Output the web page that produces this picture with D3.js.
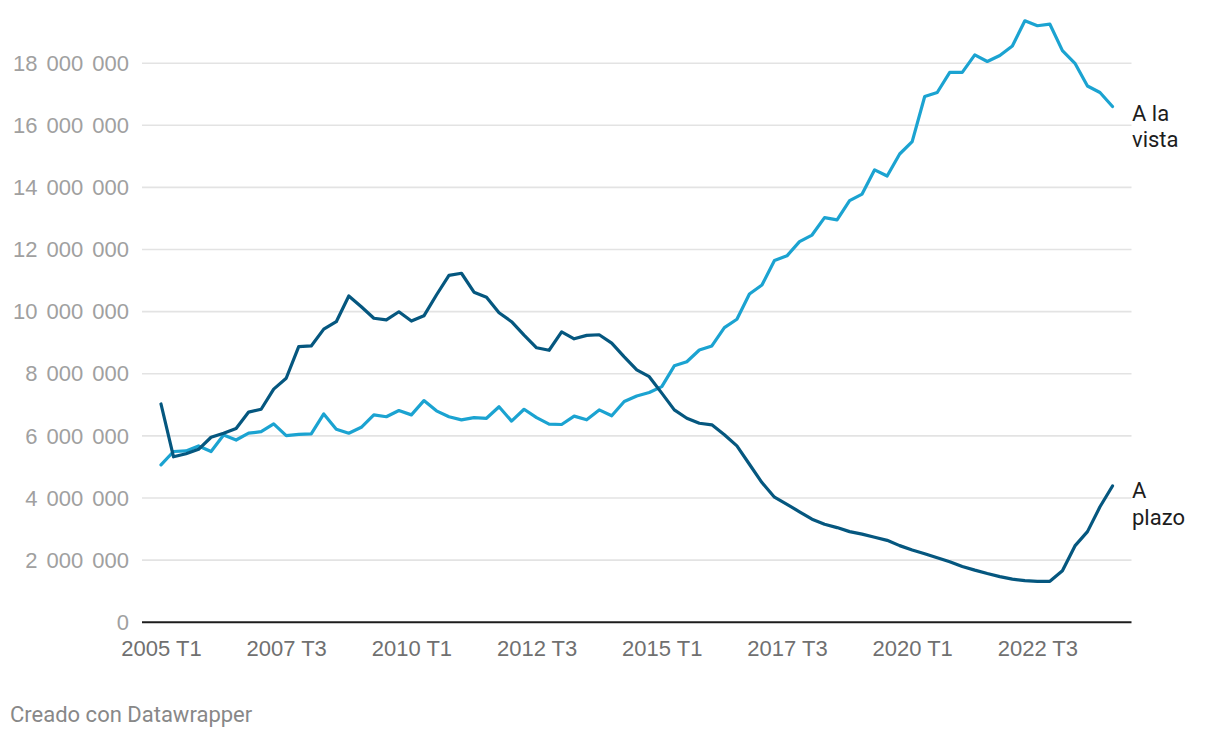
<!DOCTYPE html>
<html>
<head>
<meta charset="utf-8">
<script src="https://cdn.jsdelivr.net/npm/d3@7"></script>
<style>
  html, body { margin: 0; padding: 0; background: #fff; }
  svg { display: block; font-family: Roboto, "Noto Sans", sans-serif; }
</style>
</head>
<body>
<svg id="chart" width="1220" height="738"></svg>
<script>
// Quarters 2005 T1 .. 2024 T1
const years = d3.range(2005, 2025);
const quarters = [];
years.forEach(y => ["T1","T2","T3","T4"].forEach(q => quarters.push(y + " " + q)));
quarters.length = 77;

const aLaVista = [
  5.05, 5.48, 5.50, 5.66, 5.48, 6.01, 5.85, 6.07, 6.12, 6.37,
  5.99, 6.03, 6.05, 6.69, 6.20, 6.07, 6.26, 6.66, 6.60, 6.80,
  6.66, 7.12, 6.79, 6.60, 6.50, 6.57, 6.55, 6.92, 6.46, 6.84,
  6.57, 6.36, 6.35, 6.62, 6.50, 6.82, 6.63, 7.09, 7.27, 7.38,
  7.57, 8.24, 8.37, 8.75, 8.88, 9.47, 9.74, 10.55, 10.84, 11.63,
  11.78, 12.24, 12.45, 13.01, 12.94, 13.56, 13.77, 14.55, 14.35, 15.06,
  15.46, 16.91, 17.04, 17.69, 17.69, 18.25, 18.04, 18.23, 18.54, 19.35,
  19.19, 19.24, 18.39, 17.98, 17.25, 17.04, 16.59
].map(v => v * 1e6);

const aPlazo = [
  7.01, 5.31, 5.41, 5.55, 5.94, 6.07, 6.22, 6.75, 6.84, 7.49,
  7.84, 8.86, 8.88, 9.42, 9.66, 10.49, 10.14, 9.77, 9.72, 9.98,
  9.68, 9.85, 10.52, 11.15, 11.22, 10.61, 10.45, 9.95, 9.66, 9.23,
  8.82, 8.74, 9.33, 9.11, 9.22, 9.24, 8.97, 8.53, 8.11, 7.89,
  7.36, 6.82, 6.55, 6.39, 6.34, 6.02, 5.66, 5.07, 4.48, 4.01,
  3.78, 3.54, 3.30, 3.14, 3.03, 2.90, 2.82, 2.72, 2.62, 2.45,
  2.31, 2.19, 2.06, 1.93, 1.78, 1.66, 1.55, 1.45, 1.37, 1.32,
  1.30, 1.30, 1.64, 2.44, 2.90, 3.70, 4.37
].map(v => v * 1e6);

const xTickLabels = ["2005 T1","2007 T3","2010 T1","2012 T3","2015 T1","2017 T3","2020 T1","2022 T3"];
const yTicks = [0, 2e6, 4e6, 6e6, 8e6, 10e6, 12e6, 14e6, 16e6, 18e6];

const svg = d3.select("#chart");

const x = d3.scalePoint().domain(quarters).range([161, 1112.5]);
const y = d3.scaleLinear().domain([0, 18e6]).range([621.7, 62.7]);

const locale = d3.formatLocale({ decimal: ",", thousands: " ", grouping: [3], currency: ["", "€"] });
const fmt = locale.format(",");

const gridLeft = 142, gridRight = 1131.5;

// Gridlines
const yAxis = d3.axisLeft(y).tickValues(yTicks).tickSize(-(gridRight - gridLeft)).tickPadding(13).tickFormat(fmt);
const gy = svg.append("g").attr("transform", `translate(${gridLeft},0)`).call(yAxis);
gy.select(".domain").remove();
gy.selectAll(".tick line").attr("stroke", "#e3e3e3").attr("stroke-width", 1.6);
gy.selectAll(".tick text").attr("fill", "#a0a0a0").attr("font-size", 22).attr("dy", "0.35em").attr("x", -13)
  .attr("word-spacing", "3px");
gy.selectAll(".tick").filter(d => d === 0).select("line").attr("stroke", "#1d1d1d").attr("stroke-width", 2);

// X axis labels
const xAxis = d3.axisBottom(x).tickValues(xTickLabels).tickSize(0).tickPadding(0);
const gx = svg.append("g").attr("transform", `translate(0,${y(0)})`).call(xAxis);
gx.select(".domain").remove();
gx.selectAll(".tick text").attr("fill", "#707070").attr("font-size", 22).attr("y", 34.5).attr("dy", 0);

// Lines
const line = d3.line().x((d, i) => x(quarters[i])).y(d => y(d)).curve(d3.curveLinear);

svg.append("path").datum(aLaVista)
  .attr("fill", "none").attr("stroke", "#1ba3d1").attr("stroke-width", 3.2)
  .attr("stroke-linejoin", "round").attr("stroke-linecap", "round")
  .attr("d", line);

svg.append("path").datum(aPlazo)
  .attr("fill", "none").attr("stroke", "#05577f").attr("stroke-width", 3.2)
  .attr("stroke-linejoin", "round").attr("stroke-linecap", "round")
  .attr("d", line);

// Direct labels
function label(lines, yBase) {
  const t = svg.append("text").attr("x", 1132).attr("y", yBase)
    .attr("font-size", 22).attr("fill", "#1d1d1d");
  lines.forEach((s, i) => t.append("tspan").attr("x", 1132).attr("dy", i === 0 ? 0 : 26.5).text(s));
}
label(["A la", "vista"], 120.7);
label(["A", "plazo"], 498.3);

// Footer
svg.append("text").attr("x", 10).attr("y", 721.5).attr("font-size", 22).attr("fill", "#888")
  .text("Creado con Datawrapper");
</script>
</body>
</html>
